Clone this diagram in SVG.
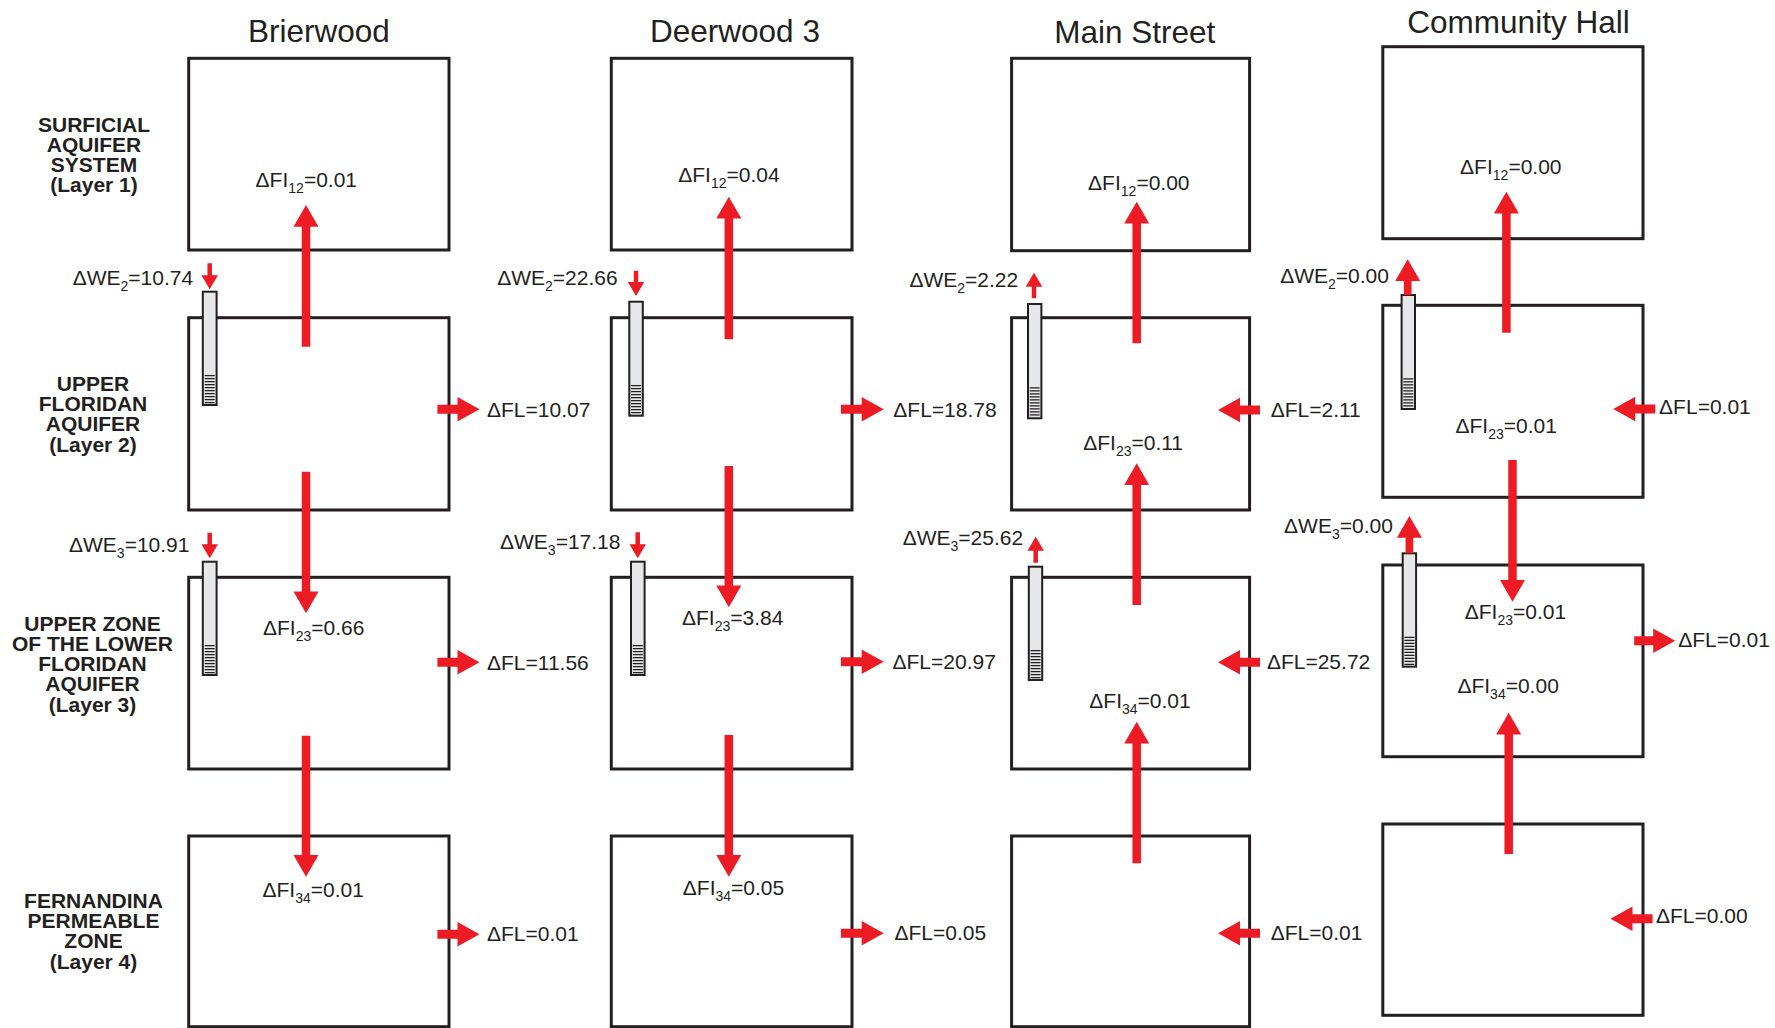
<svg xmlns="http://www.w3.org/2000/svg" width="1775" height="1028" viewBox="0 0 1775 1028">
<style>
.box{fill:none;stroke:#231f20;stroke-width:3}
.cas{fill:#e6e7e8;stroke:#231f20;stroke-width:2}
.scr{stroke:#231f20;stroke-width:10;stroke-dasharray:1.3 1.7}
.arr{fill:#ed1c24;stroke:none}
.t{font-family:"Liberation Sans",Arial,sans-serif;font-size:21px;fill:#231f20}
.title{font-family:"Liberation Sans",Arial,sans-serif;font-size:31.5px;fill:#231f20;text-anchor:middle}
.lay{font-family:"Liberation Sans",Arial,sans-serif;font-size:21px;font-weight:bold;fill:#231f20;text-anchor:middle}
.sub{font-size:14px}
</style>
<rect width="1775" height="1028" fill="#ffffff"/>

<g id="layer-labels">
<text class="lay"><tspan x="94" y="131.7">SURFICIAL</tspan><tspan x="94" y="151.7">AQUIFER</tspan><tspan x="94" y="171.5">SYSTEM</tspan><tspan x="94" y="192">(Layer 1)</tspan></text>
<text class="lay"><tspan x="93" y="390.7">UPPER</tspan><tspan x="93" y="411">FLORIDAN</tspan><tspan x="93" y="431">AQUIFER</tspan><tspan x="93" y="451.7">(Layer 2)</tspan></text>
<text class="lay"><tspan x="92.5" y="631">UPPER ZONE</tspan><tspan x="92.5" y="651">OF THE LOWER</tspan><tspan x="92.5" y="671">FLORIDAN</tspan><tspan x="92.5" y="691">AQUIFER</tspan><tspan x="92.5" y="711.7">(Layer 3)</tspan></text>
<text class="lay"><tspan x="93.5" y="908.3">FERNANDINA</tspan><tspan x="93.5" y="928.3">PERMEABLE</tspan><tspan x="93.5" y="948.3">ZONE</tspan><tspan x="93.5" y="969">(Layer 4)</tspan></text>
</g>

<g id="titles">
<text class="title" x="318.8" y="42.3">Brierwood</text>
<text class="title" x="735" y="42.3">Deerwood 3</text>
<text class="title" x="1134.7" y="43.3">Main Street</text>
<text class="title" x="1518.5" y="33.3">Community Hall</text>
</g>

<g id="brierwood">
<g id="brierwood-l1"><rect class="box" x="188.7" y="58.3" width="260.3" height="191.7"/></g>
<g id="brierwood-l2"><rect class="box" x="188.7" y="317.7" width="260.3" height="192.3"/></g>
<g id="brierwood-l3"><rect class="box" x="188.7" y="577.3" width="260.3" height="191.7"/></g>
<g id="brierwood-l4"><rect class="box" x="188.7" y="836" width="260.3" height="190.7"/></g>
</g>
<g id="deerwood">
<g id="deerwood-l1"><rect class="box" x="611.3" y="58.3" width="240.7" height="191.7"/></g>
<g id="deerwood-l2"><rect class="box" x="611.3" y="317.7" width="240.7" height="192.3"/></g>
<g id="deerwood-l3"><rect class="box" x="611.3" y="577.3" width="240.7" height="191.7"/></g>
<g id="deerwood-l4"><rect class="box" x="611.3" y="836" width="240.7" height="190.7"/></g>
</g>
<g id="mainstreet">
<g id="mainstreet-l1"><rect class="box" x="1011.6" y="58.3" width="238" height="192.4"/></g>
<g id="mainstreet-l2"><rect class="box" x="1011.6" y="317.7" width="238" height="192.3"/></g>
<g id="mainstreet-l3"><rect class="box" x="1011.6" y="577.3" width="238" height="191.7"/></g>
<g id="mainstreet-l4"><rect class="box" x="1011.6" y="836" width="238" height="190.7"/></g>
</g>
<g id="communityhall">
<g id="communityhall-l1"><rect class="box" x="1382.8" y="46.7" width="260.2" height="192"/></g>
<g id="communityhall-l2"><rect class="box" x="1382.8" y="305.3" width="260.2" height="192"/></g>
<g id="communityhall-l3"><rect class="box" x="1382.8" y="565" width="260.2" height="191.7"/></g>
<g id="communityhall-l4"><rect class="box" x="1382.8" y="824" width="260.2" height="191.3"/></g>
</g>

<g id="wells">
<rect class="cas" x="202.8" y="291.7" width="13.8" height="113.3"/><line class="scr" x1="209.7" y1="375" x2="209.7" y2="404"/>
<rect class="cas" x="202.8" y="561.7" width="13.8" height="113.3"/><line class="scr" x1="209.7" y1="645" x2="209.7" y2="674"/>
<rect class="cas" x="629.3" y="301.7" width="13.5" height="114"/><line class="scr" x1="636" y1="385" x2="636" y2="414.7"/>
<rect class="cas" x="631" y="561.7" width="13.6" height="113.3"/><line class="scr" x1="637.8" y1="645" x2="637.8" y2="674"/>
<rect class="cas" x="1028" y="304" width="13.4" height="114.3"/><line class="scr" x1="1034.7" y1="387.3" x2="1034.7" y2="417.3"/>
<rect class="cas" x="1028.8" y="566.7" width="13.4" height="113.3"/><line class="scr" x1="1035.5" y1="650" x2="1035.5" y2="679"/>
<rect class="cas" x="1401.6" y="295" width="13.4" height="114"/><line class="scr" x1="1408.3" y1="378.3" x2="1408.3" y2="408"/>
<rect class="cas" x="1402.7" y="553.3" width="13.4" height="113.4"/><line class="scr" x1="1409.4" y1="636.7" x2="1409.4" y2="665.7"/>
</g>

<g id="connectors">
<polygon class="arr" points="301.75,346.7 301.75,226.7 293.5,226.7 306,205 318.5,226.7 310.25,226.7 310.25,346.7"/>
<polygon class="arr" points="301.75,471.7 310.25,471.7 310.25,591.6 318.5,591.6 306,613.3 293.5,591.6 301.75,591.6"/>
<polygon class="arr" points="301.75,735.7 310.25,735.7 310.25,855 318.5,855 306,876.7 293.5,855 301.75,855"/>
<polygon class="arr" points="724.55,339.3 724.55,218.4 716.3,218.4 728.8,196.7 741.3,218.4 733.05,218.4 733.05,339.3"/>
<polygon class="arr" points="724.55,466 733.05,466 733.05,585.6 741.3,585.6 728.8,607.3 716.3,585.6 724.55,585.6"/>
<polygon class="arr" points="724.55,735 733.05,735 733.05,855 741.3,855 728.8,876.7 716.3,855 724.55,855"/>
<polygon class="arr" points="1132.45,343.3 1132.45,223.4 1124.2,223.4 1136.7,201.7 1149.2,223.4 1140.95,223.4 1140.95,343.3"/>
<polygon class="arr" points="1132.45,605 1132.45,485 1124.2,485 1136.7,463.3 1149.2,485 1140.95,485 1140.95,605"/>
<polygon class="arr" points="1132.45,863.3 1132.45,743.4 1124.2,743.4 1136.7,721.7 1149.2,743.4 1140.95,743.4 1140.95,863.3"/>
<polygon class="arr" points="1502.15,332.7 1502.15,213.4 1493.9,213.4 1506.4,191.7 1518.9,213.4 1510.65,213.4 1510.65,332.7"/>
<polygon class="arr" points="1508.25,460 1516.75,460 1516.75,580 1525,580 1512.5,601.7 1500,580 1508.25,580"/>
<polygon class="arr" points="1504.45,854 1504.45,734.4 1496.2,734.4 1508.7,712.7 1521.2,734.4 1512.95,734.4 1512.95,854"/>

<polygon class="arr" points="437.4,404.8 457.5,404.8 457.5,397.1 479.5,409.3 457.5,421.5 457.5,413.8 437.4,413.8"/>
<polygon class="arr" points="437.4,657.8 457.5,657.8 457.5,650.1 479.5,662.3 457.5,674.5 457.5,666.8 437.4,666.8"/>
<polygon class="arr" points="437.4,929.8 457.5,929.8 457.5,922.1 479.5,934.3 457.5,946.5 457.5,938.8 437.4,938.8"/>
<polygon class="arr" points="840.9,404.8 861.7,404.8 861.7,397.1 883.7,409.3 861.7,421.5 861.7,413.8 840.9,413.8"/>
<polygon class="arr" points="840.9,657.2 861.7,657.2 861.7,649.5 883.7,661.7 861.7,673.9 861.7,666.2 840.9,666.2"/>
<polygon class="arr" points="840.9,928.8 861.7,928.8 861.7,921.1 883.7,933.3 861.7,945.5 861.7,937.8 840.9,937.8"/>
<polygon class="arr" points="1260,405.5 1240,405.5 1240,397.8 1218,410 1240,422.2 1240,414.5 1260,414.5"/>
<polygon class="arr" points="1260,657.8 1240,657.8 1240,650.1 1218,662.3 1240,674.5 1240,666.8 1260,666.8"/>
<polygon class="arr" points="1260,928.8 1240,928.8 1240,921.1 1218,933.3 1240,945.5 1240,937.8 1260,937.8"/>
<polygon class="arr" points="1655.3,404.5 1635.2,404.5 1635.2,396.8 1613.2,409 1635.2,421.2 1635.2,413.5 1655.3,413.5"/>
<polygon class="arr" points="1634.2,636.2 1653.2,636.2 1653.2,628.5 1675.2,640.7 1653.2,652.9 1653.2,645.2 1634.2,645.2"/>
<polygon class="arr" points="1652.6,914.2 1632.5,914.2 1632.5,906.5 1610.5,918.7 1632.5,930.9 1632.5,923.2 1652.6,923.2"/>

<polygon class="arr" points="207.45,263.3 211.95,263.3 211.95,275.3 217.95,275.3 209.7,289.3 201.45,275.3 207.45,275.3"/>
<polygon class="arr" points="207.45,532.7 211.95,532.7 211.95,544.3 217.95,544.3 209.7,558.3 201.45,544.3 207.45,544.3"/>
<polygon class="arr" points="633.75,270.7 638.25,270.7 638.25,282 644.25,282 636,296 627.75,282 633.75,282"/>
<polygon class="arr" points="635.45,532.3 639.95,532.3 639.95,544.3 645.95,544.3 637.7,558.3 629.45,544.3 635.45,544.3"/>
<polygon class="arr" points="1031.75,298.3 1031.75,286.7 1025.75,286.7 1034,272.7 1042.25,286.7 1036.25,286.7 1036.25,298.3"/>
<polygon class="arr" points="1033.45,562.7 1033.45,550.7 1027.45,550.7 1035.7,536.7 1043.95,550.7 1037.95,550.7 1037.95,562.7"/>
<polygon class="arr" points="1403.85,295 1403.85,281 1395.2,281 1407.7,259.3 1420.2,281 1411.55,281 1411.55,295"/>
<polygon class="arr" points="1405.55,553.3 1405.55,537.7 1396.9,537.7 1409.4,516 1421.9,537.7 1413.25,537.7 1413.25,553.3"/>
</g>

<g id="flow-labels">
<text class="t" x="255.6" y="186.7">ΔFI<tspan class="sub" dy="6">12</tspan><tspan dy="-6">=0.01</tspan></text>
<text class="t" x="72.7" y="285">ΔWE<tspan class="sub" dy="6">2</tspan><tspan dy="-6">=10.74</tspan></text>
<text class="t" x="487" y="416.7">ΔFL=10.07</text>
<text class="t" x="69" y="551.7">ΔWE<tspan class="sub" dy="6">3</tspan><tspan dy="-6">=10.91</tspan></text>
<text class="t" x="263" y="635">ΔFI<tspan class="sub" dy="6">23</tspan><tspan dy="-6">=0.66</tspan></text>
<text class="t" x="487" y="670">ΔFL=11.56</text>
<text class="t" x="262.5" y="896.7">ΔFI<tspan class="sub" dy="6">34</tspan><tspan dy="-6">=0.01</tspan></text>
<text class="t" x="487" y="940.7">ΔFL=0.01</text>

<text class="t" x="678.2" y="181.7">ΔFI<tspan class="sub" dy="6">12</tspan><tspan dy="-6">=0.04</tspan></text>
<text class="t" x="497.2" y="285">ΔWE<tspan class="sub" dy="6">2</tspan><tspan dy="-6">=22.66</tspan></text>
<text class="t" x="893.3" y="416.7">ΔFL=18.78</text>
<text class="t" x="500" y="549.3">ΔWE<tspan class="sub" dy="6">3</tspan><tspan dy="-6">=17.18</tspan></text>
<text class="t" x="682" y="625">ΔFI<tspan class="sub" dy="6">23</tspan><tspan dy="-6">=3.84</tspan></text>
<text class="t" x="892.5" y="669">ΔFL=20.97</text>
<text class="t" x="682.8" y="895">ΔFI<tspan class="sub" dy="6">34</tspan><tspan dy="-6">=0.05</tspan></text>
<text class="t" x="894.5" y="940">ΔFL=0.05</text>

<text class="t" x="1088.1" y="190">ΔFI<tspan class="sub" dy="6">12</tspan><tspan dy="-6">=0.00</tspan></text>
<text class="t" x="909.4" y="286.7">ΔWE<tspan class="sub" dy="6">2</tspan><tspan dy="-6">=2.22</tspan></text>
<text class="t" x="1270.7" y="416.7">ΔFL=2.11</text>
<text class="t" x="1083.2" y="450">ΔFI<tspan class="sub" dy="6">23</tspan><tspan dy="-6">=0.11</tspan></text>
<text class="t" x="902.7" y="545">ΔWE<tspan class="sub" dy="6">3</tspan><tspan dy="-6">=25.62</tspan></text>
<text class="t" x="1266.9" y="669">ΔFL=25.72</text>
<text class="t" x="1089.3" y="708.3">ΔFI<tspan class="sub" dy="6">34</tspan><tspan dy="-6">=0.01</tspan></text>
<text class="t" x="1270.7" y="940">ΔFL=0.01</text>

<text class="t" x="1460.1" y="174">ΔFI<tspan class="sub" dy="6">12</tspan><tspan dy="-6">=0.00</tspan></text>
<text class="t" x="1280.2" y="283.3">ΔWE<tspan class="sub" dy="6">2</tspan><tspan dy="-6">=0.00</tspan></text>
<text class="t" x="1659.1" y="414.3">ΔFL=0.01</text>
<text class="t" x="1455.5" y="433.3">ΔFI<tspan class="sub" dy="6">23</tspan><tspan dy="-6">=0.01</tspan></text>
<text class="t" x="1284.1" y="533.3">ΔWE<tspan class="sub" dy="6">3</tspan><tspan dy="-6">=0.00</tspan></text>
<text class="t" x="1464.7" y="619.3">ΔFI<tspan class="sub" dy="6">23</tspan><tspan dy="-6">=0.01</tspan></text>
<text class="t" x="1678.2" y="647.3">ΔFL=0.01</text>
<text class="t" x="1457.4" y="693.3">ΔFI<tspan class="sub" dy="6">34</tspan><tspan dy="-6">=0.00</tspan></text>
<text class="t" x="1656" y="923.3">ΔFL=0.00</text>
</g>
</svg>
